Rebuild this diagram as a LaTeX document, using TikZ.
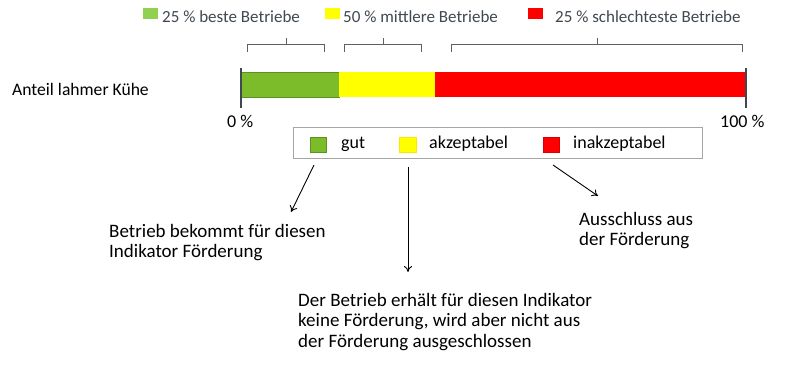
\documentclass[tikz,border=0pt]{standalone}
\usepackage{fontspec}
\setmainfont{Carlito}
\usetikzlibrary{arrows.meta}
\definecolor{topgreen}{HTML}{92D050}
\definecolor{bargreen}{HTML}{7CBC2A}
\definecolor{bargreenline}{HTML}{5A9420}
\definecolor{byellow}{HTML}{FFFF00}
\definecolor{bred}{HTML}{FF0000}
\definecolor{toptext}{HTML}{404850}
\definecolor{bracecol}{HTML}{606060}
\definecolor{boxline}{HTML}{A6A6A6}
\begin{document}
\begin{tikzpicture}[x=1pt,y=-1pt,
  txt/.style={inner sep=0pt,font=\fontsize{18}{23}\selectfont,text=black},
  bigtxt/.style={inner sep=0pt,font=\fontsize{19}{20.5}\selectfont,text=black,align=left,anchor=north west},
  toptxt/.style={inner sep=0pt,font=\fontsize{17}{20}\selectfont,text=toptext,anchor=base west},
  topsq/.style={inner sep=0pt,minimum width=15pt,minimum height=11pt,anchor=north west},
  sq/.style={inner sep=0pt,minimum width=16pt,minimum height=15pt,anchor=north west},
  seg/.style={inner sep=0pt,minimum height=25pt,anchor=north west},
  bracepath/.style={draw=bracecol,line width=0.9pt},
  endline/.style={draw=toptext,line width=1.3pt},
  arr/.style={draw=black,line width=0.9pt,-{To[length=6pt,width=8pt]}}]
\useasboundingbox[fill=white] (0,0) rectangle (800,386);

% top legend
\node[topsq,fill=topgreen] (tg) at (143,8) {};
\node[toptxt] (tgt) at (162,22) {25 \% beste Betriebe};
\node[topsq,fill=byellow] (ty) at (325,8) {};
\node[toptxt] (tyt) at (343,22) {50 \% mittlere Betriebe};
\node[topsq,fill=bred] (tr) at (528,8) {};
\node[toptxt] (trt) at (555,22) {25 \% schlechteste Betriebe};

% braces
\draw[bracepath] (247,52) -- (247,44) -- (324,44) -- (324,52) (286,44) -- (286,38);
\draw[bracepath] (344,52) -- (344,44) -- (421,44) -- (421,52) (383,44) -- (383,38);
\draw[bracepath] (451,52) -- (451,44) -- (742,44) -- (742,52) (597,44) -- (597,38);

% bar
\node[txt,font=\fontsize{17.6}{21}\selectfont,anchor=base west] (lab) at (12,95) {Anteil lahmer Kühe};
\node[seg,minimum width=98pt,fill=bargreen,draw=bargreenline,line width=0.8pt] (bg) at (241,72) {};
\node[seg,minimum width=96pt,fill=byellow] (by) at (339,72) {};
\node[seg,minimum width=311pt,fill=bred] (br) at (435,72) {};
\coordinate (l0a) at (241,68); \coordinate (l0b) at (241,108);
\coordinate (l1a) at (746,68); \coordinate (l1b) at (746,108);
\draw[endline] (l0a) -- (l0b);
\draw[endline] (l1a) -- (l1b);
\node[txt,anchor=base west] (p0) at (227,127) {0 \%};
\node[txt,anchor=base west] (p100) at (720,127) {100 \%};

% legend box
\node[draw=boxline,line width=0.9pt,minimum width=409pt,minimum height=31pt,anchor=north west,inner sep=0pt] (box) at (293,127) {};
\node[sq,fill=bargreen,draw=bargreenline,line width=0.8pt] (lg) at (310,137) {};
\node[txt,anchor=base west] (lgt) at (341,148) {gut};
\node[sq,minimum width=17pt,fill=byellow,draw=byellow!80!orange] (ly) at (399,137) {};
\node[txt,anchor=base west] (lyt) at (429,148) {akzeptabel};
\node[sq,fill=bred,draw=bred!85!black] (lr) at (543,137) {};
\node[txt,anchor=base west] (lrt) at (573,148) {inakzeptabel};

% texts
\node[bigtxt] (t1) at (109,224) {Betrieb bekommt für diesen\\Indikator Förderung};
\node[bigtxt] (t2) at (298,293) {Der Betrieb erhält für diesen Indikator\\keine Förderung, wird aber nicht aus\\der Förderung ausgeschlossen};
\node[bigtxt] (t3) at (579,212) {Ausschluss aus\\der Förderung};

% arrows
\coordinate (a1s) at (314,165); \coordinate (a1e) at (291,212);
\coordinate (a2s) at (408,167); \coordinate (a2e) at (408,272);
\coordinate (a3s) at (553,165); \coordinate (a3e) at (598,196);
\draw[arr] (a1s) -- (a1e);
\draw[arr] (a2s) -- (a2e);
\draw[arr] (a3s) -- (a3e);
\end{tikzpicture}
\end{document}
